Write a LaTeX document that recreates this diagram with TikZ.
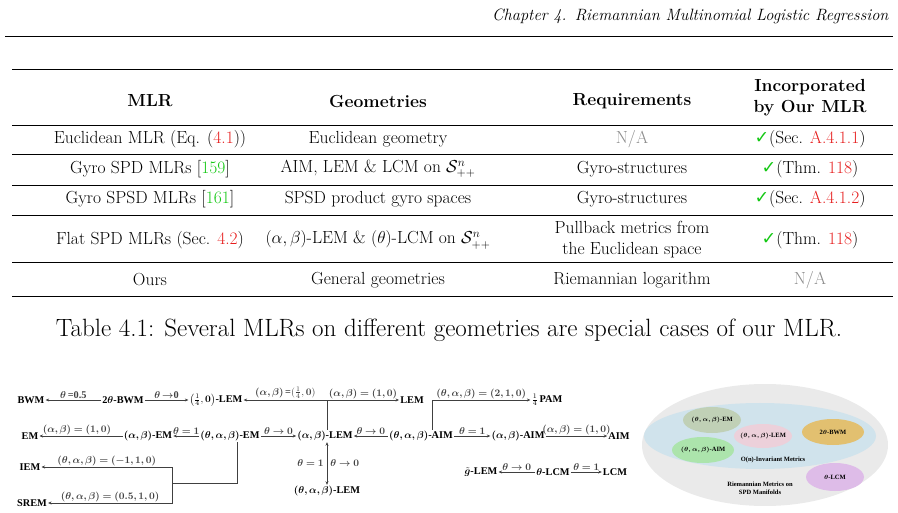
\documentclass[tikz,border=0pt]{standalone}
\usepackage{fontspec}
\usepackage{amsmath,amssymb,bm}
\newfontfamily\dgfont{Liberation Serif}
\newfontfamily\symfont{DejaVu Sans}
\usetikzlibrary{positioning,arrows.meta}
\definecolor{refred}{RGB}{230,30,30}
\definecolor{citegreen}{RGB}{20,200,20}
\definecolor{outergrey}{RGB}{234,234,234}
\definecolor{innerblue}{RGB}{208,227,236}
\definecolor{emblob}{RGB}{192,208,182}
\definecolor{lemblob}{RGB}{236,208,218}
\definecolor{bwmblob}{RGB}{226,192,112}
\definecolor{aimblob}{RGB}{172,228,172}
\definecolor{lcmblob}{RGB}{222,188,232}
\newcommand{\rref}[1]{\textcolor{refred}{#1}}
\newcommand{\gcite}[1]{[\textcolor{citegreen}{#1}]}
\newcommand{\chk}{\textcolor{citegreen}{\symfont\char"2713}}
\newcommand{\bs}[1]{$\bm{#1}$}
\begin{document}
\begin{tikzpicture}[x=1pt,y=-1pt,
  cell/.style={font=\fontsize{17.5}{20}\selectfont,align=center,inner sep=1pt},
  hcell/.style={font=\fontsize{17.5}{21}\selectfont\bfseries,align=center,inner sep=1pt},
  met/.style={font=\dgfont\bfseries\fontsize{10.3}{12}\selectfont,inner sep=1pt},
  lab/.style={font=\dgfont\bfseries\fontsize{10.3}{12}\selectfont,inner sep=1pt,above},
  tiny/.style={font=\dgfont\bfseries\fontsize{6.5}{8}\selectfont,inner sep=1pt,align=center},
  arr/.style={-{Stealth[length=3.5pt,width=3pt]},line width=.7pt,black!75},
  edge/.style={line width=.7pt,black!75}]
\useasboundingbox (0,0) rectangle (898,513);

% Running head and table rules
\node[anchor=east,font=\fontsize{16.4}{19}\selectfont\itshape] (head) at (892,16) {Chapter 4.\enspace Riemannian Multinomial Logistic Regression};
\draw[line width=.5pt] (5,36) -- (893,36);
\draw[line width=1pt] (12,70) -- (893,70);
\draw[line width=.6pt] (12,125) -- (893,125);
\foreach \y in {154,185,215,262} \draw[line width=.4pt] (12,\y) -- (893,\y);
\draw[line width=1pt] (12,297) -- (893,297);

% Header row
\node[hcell] (hmlr) at (150,101) {MLR};
\node[hcell] (hgeo) at (378,101) {Geometries};
\node[hcell] (hreq) at (632,101) {Requirements};
\node[hcell] (hinc) at (810,98) {Incorporated\\by Our MLR};

% Body rows
\node[cell] (r1a) at (150,139) {Euclidean MLR (Eq. (\rref{4.1}))};
\node[cell] (r1b) at (378,139) {Euclidean geometry};
\node[cell,text=black!45] (r1c) at (632,139) {N/A};
\node[cell] (r1d) at (810,139) {\chk(Sec. \rref{A.4.1.1})};
\node[cell] (r2a) at (150,169) {Gyro SPD MLRs \gcite{159}};
\node[cell] (r2b) at (378,169) {AIM, LEM \& LCM on $\mathcal{S}^n_{++}$};
\node[cell] (r2c) at (632,169) {Gyro-structures};
\node[cell] (r2d) at (810,169) {\chk(Thm. \rref{118})};
\node[cell] (r3a) at (150,199) {Gyro SPSD MLRs \gcite{161}};
\node[cell] (r3b) at (378,199) {SPSD product gyro spaces};
\node[cell] (r3c) at (632,199) {Gyro-structures};
\node[cell] (r3d) at (810,199) {\chk(Sec. \rref{A.4.1.2})};
\node[cell] (r4a) at (150,240) {Flat SPD MLRs (Sec. \rref{4.2})};
\node[cell] (r4b) at (378,240) {$(\alpha,\beta)$-LEM \& $(\theta)$-LCM on $\mathcal{S}^n_{++}$};
\node[cell,font=\fontsize{17.5}{21}\selectfont] (r4c) at (632,240) {Pullback metrics from\\the Euclidean space};
\node[cell] (r4d) at (810,240) {\chk(Thm. \rref{118})};
\node[cell] (r5a) at (150,280) {Ours};
\node[cell] (r5b) at (378,280) {General geometries};
\node[cell] (r5c) at (632,280) {Riemannian logarithm};
\node[cell,text=black!45] (r5d) at (810,280) {N/A};

\node[font=\fontsize{25}{28}\selectfont] (cap) at (449,330) {Table 4.1: Several MLRs on different geometries are special cases of our MLR.};

% Metric nodes
\node[met] (bwm) at (31,400) {BWM};
\node[met] (tbwm) at (123,400) {2\bs{\theta}-BWM};
\node[met] (qlem) at (216,400) {$\bigl(\frac{1}{4},\bm{0}\bigr)$-LEM};
\node[met] (lem) at (412,400) {LEM};
\node[met] (pam) at (547,400) {$\frac{1}{4}$\,PAM};
\node[met] (em) at (30,436) {EM};
\node[met] (abem) at (148,436) {\bs{(\alpha,\beta)}-EM};
\node[met] (tabem) at (230,436) {\bs{(\theta,\alpha,\beta)}-EM};
\node[met] (ablem) at (325,436) {\bs{(\alpha,\beta)}-LEM};
\node[met] (tabaim) at (421,436) {\bs{(\theta,\alpha,\beta)}-AIM};
\node[met] (abaim) at (518,436) {\bs{(\alpha,\beta)}-AIM};
\node[met] (aim) at (619,436) {AIM};
\node[met] (iem) at (30,467) {IEM};
\node[met] (srem) at (32,503) {SREM};
\node[met] (tablem) at (327,491) {\bs{(\theta,\alpha,\beta)}-LEM};
\node[met] (glem) at (481,472) {$\tilde{\bm{g}}$-LEM};
\node[met] (tlcm) at (553,472) {\bs{\theta}-LCM};
\node[met] (lcm) at (615,472) {LCM};

% Branch points
\coordinate (up) at (327,400);
\coordinate (aimup) at (432,400);
\coordinate (emdown) at (237,483);
\coordinate (split) at (172,483);

% Connectors
\draw[arr] (tbwm) -- node[lab] {\bs{\theta}\,=0.5} (bwm);
\draw[arr] (tbwm) -- node[lab] {\bs{\theta}\,$\bm\to$0} (qlem);
\draw[edge] (ablem.north -| up) -- (up);
\draw[arr] (up) -- node[lab] {\bs{(\alpha,\beta)}\,=$(\frac14,\bm{0})$} (qlem);
\draw[arr] (up) -- node[lab] {\bs{(\alpha,\beta)=(1,0)}} (lem);
\draw[edge] (tabaim.north -| aimup) -- (aimup);
\draw[arr] (aimup) -- node[lab] {\bs{(\theta,\alpha,\beta)=(2,1,0)}} (pam);
\draw[arr] (abem) -- node[lab,pos=.55] {\bs{(\alpha,\beta)=(1,0)}} (em);
\draw[arr] (tabem) -- node[lab] {\bs{\theta=1}} (abem);
\draw[arr] (tabem) -- node[lab] {\bs{\theta\to0}} (ablem);
\draw[arr] (tabaim) -- node[lab] {\bs{\theta\to0}} (ablem);
\draw[arr] (tabaim) -- node[lab] {\bs{\theta=1}} (abaim);
\draw[arr] (abaim) -- node[lab] {\bs{(\alpha,\beta)=(1,0)}} (aim);
\draw[edge] (tabem.south -| emdown) -- (emdown) -- (split);
\draw[arr] (split) |- node[lab,pos=.75] {\bs{(\theta,\alpha,\beta)=(-1,1,0)}} (iem);
\draw[arr] (split) |- node[lab,pos=.75] {\bs{(\theta,\alpha,\beta)=(0.5,1,0)}} (srem);
\draw[{Stealth[length=3.5pt,width=3pt]}-{Stealth[length=3.5pt,width=3pt]},line width=.7pt,black!75] (ablem.south -| up) -- node[met,left=2pt] {\bs{\theta=1}} node[met,right=2pt] {\bs{\theta\to0}} (tablem.north -| up);
\draw[arr] (tlcm) -- node[lab] {\bs{\theta\to0}} (glem);
\draw[arr] (tlcm) -- node[lab] {\bs{\theta=1}} (lcm);

% Inclusion sketch
\fill[outergrey] (765,445) ellipse (123 and 61);
\fill[innerblue] (760,436) ellipse (116 and 33);
\fill[emblob] (712,420) ellipse (29 and 13);
\fill[lemblob] (763,436) ellipse (29 and 12);
\fill[bwmblob] (833,432) ellipse (31 and 13);
\fill[aimblob] (703,450) ellipse (31 and 13);
\fill[lcmblob] (835,477) ellipse (29 and 14);
\node[tiny] (sem) at (712,420) {\bs{(\theta,\alpha,\beta)}-EM};
\node[tiny] (slem) at (763,436) {\bs{(\theta,\alpha,\beta)}-LEM};
\node[tiny] (sbwm) at (833,432) {2\bs{\theta}-BWM};
\node[tiny] (saim) at (703,450) {\bs{(\theta,\alpha,\beta)}-AIM};
\node[tiny] (slcm) at (835,477) {\bs{\theta}-LCM};
\node[tiny] (sinv) at (773,460) {O(n)-Invariant Metrics};
\node[tiny] (sspd) at (760,488) {Riemannian Metrics on\\SPD Manifolds};
\end{tikzpicture}
\end{document}
